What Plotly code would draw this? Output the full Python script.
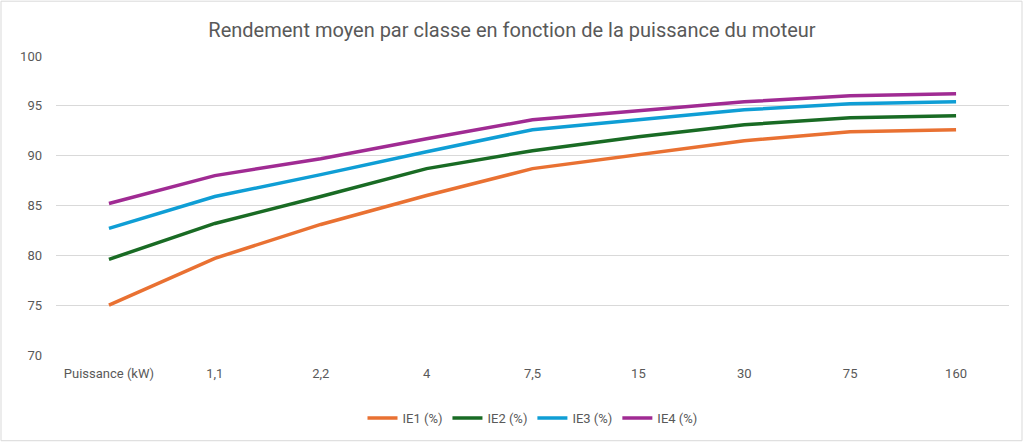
import plotly.graph_objects as go

categories = ["Puissance (kW)", "1,1", "2,2", "4", "7,5", "15", "30", "75", "160"]
ie1 = [75.0, 79.7, 83.1, 86.0, 88.7, 90.1, 91.5, 92.4, 92.6]
ie2 = [79.6, 83.2, 85.9, 88.7, 90.5, 91.9, 93.1, 93.8, 94.0]
ie3 = [82.7, 85.9, 88.1, 90.4, 92.6, 93.6, 94.6, 95.2, 95.4]
ie4 = [85.2, 88.0, 89.7, 91.7, 93.6, 94.5, 95.4, 96.0, 96.2]
series_names = ["IE1 (%)", "IE2 (%)", "IE3 (%)", "IE4 (%)"]
colors = ["#E97132", "#196B24", "#0F9ED5", "#A02B93"]

fig = go.Figure()
for name, vals, col in zip(series_names, [ie1, ie2, ie3, ie4], colors):
    fig.add_trace(go.Scatter(x=categories, y=vals, mode="lines", name=name,
                             line=dict(color=col, width=3.5)))

L, R, T, B = 56, 15, 56, 88
W, H = 1024, 444
pw = W - L - R
ph = H - T - B

def px_x(x):
    return (x - L) / pw

def px_y(y):
    return (H - B - y) / ph

fig.add_shape(type="rect", xref="paper", yref="paper",
              x0=px_x(1), x1=px_x(1022), y0=px_y(442), y1=px_y(1),
              line=dict(color="#D9D9D9", width=1), fillcolor="rgba(0,0,0,0)", layer="below")

fig.update_layout(
    width=W, height=H,
    margin=dict(l=L, r=R, t=T, b=B),
    paper_bgcolor="white", plot_bgcolor="white",
    font=dict(family="Roboto, Arial, sans-serif", color="#595959", size=13),
    title=dict(text="Rendement moyen par classe en fonction de la puissance du moteur",
               x=0.5, xanchor="center", y=1 - 30 / H, yanchor="middle",
               font=dict(size=20, color="#595959")),
    xaxis=dict(type="category", range=[-0.5, 8.5], showgrid=False, showline=False,
               ticks="", ticklabelstandoff=9, tickfont=dict(size=13, color="#595959"),
               zeroline=False),
    yaxis=dict(range=[70, 100], dtick=5, showgrid=True, gridcolor="#D9D9D9", gridwidth=1,
               showline=False, zeroline=False, ticks="", ticklabelstandoff=13,
               tickfont=dict(size=13, color="#595959")),
    legend=dict(orientation="h", x=0.5, xanchor="center", y=px_y(418), yanchor="middle",
                font=dict(size=13, color="#595959"), itemwidth=30, bgcolor="rgba(0,0,0,0)",
                tracegroupgap=0),
    showlegend=True,
)

fig.write_html("out.html", config={"displayModeBar": False},
               post_script="document.body.style.margin='0';document.body.style.overflow='hidden';")
